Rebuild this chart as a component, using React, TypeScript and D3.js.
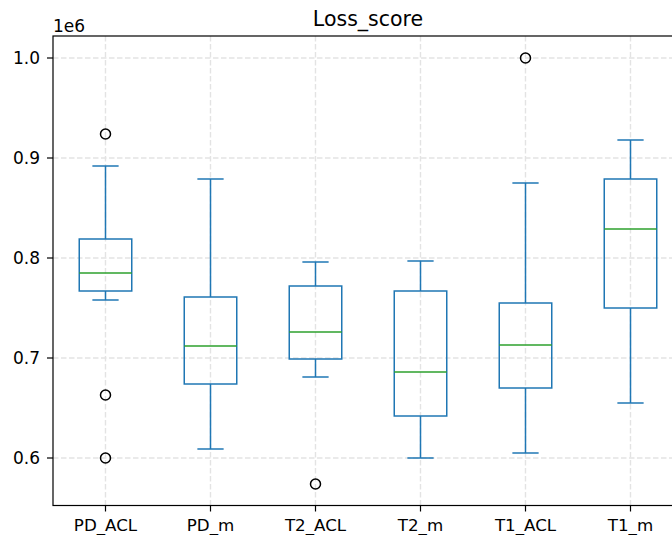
import React from "react";
import * as d3 from "d3";

const categories = ["PD_ACL", "PD_m", "T2_ACL", "T2_m", "T1_ACL", "T1_m"];
// box stats in units of 1e6
const whiskerLow = [0.758, 0.609, 0.681, 0.600, 0.605, 0.655];
const q1 = [0.767, 0.674, 0.699, 0.642, 0.670, 0.750];
const medians = [0.785, 0.712, 0.726, 0.686, 0.713, 0.829];
const q3 = [0.819, 0.761, 0.772, 0.767, 0.755, 0.879];
const whiskerHigh = [0.892, 0.879, 0.796, 0.797, 0.875, 0.918];
const outliers = [[0.924, 0.663, 0.6], [], [0.574], [], [1.0], []];
const yTicks = [0.6, 0.7, 0.8, 0.9, 1.0];

const width = 672;
const height = 535;
const left = 53;
const right = 683;
const top = 36;
const bottom = 505.5;

const blue = "#1f77b4";
const green = "#2ca02c";
const font = "DejaVu Sans, sans-serif";

const App = () => {
  const x = d3.scaleBand().domain(categories).range([left, right]).paddingInner(0).paddingOuter(0);
  const y = d3.scaleLinear().domain([0.5525, 1.022]).range([bottom, top]);
  const bw = x.bandwidth();
  const cx = (c: string) => (x(c) as number) + bw / 2;
  const boxW = bw * 0.5;
  const capW = boxW * 0.5;

  return (
    <svg width={width} height={height} style={{ position: "absolute", left: 0, top: 0, background: "#fff" }}>
      {/* grid */}
      <g stroke="#e3e3e3" strokeWidth={1.4} strokeDasharray="5.5,2.5">
        {yTicks.map((t) => (
          <line key={t} x1={left} x2={right} y1={y(t)} y2={y(t)} />
        ))}
        {categories.map((c) => (
          <line key={c} x1={cx(c)} x2={cx(c)} y1={top} y2={bottom} />
        ))}
      </g>

      {/* boxes */}
      {categories.map((c, i) => {
        const m = cx(c);
        return (
          <g key={c}>
            <g stroke={blue} strokeWidth={1.5} fill="none">
              <line x1={m} x2={m} y1={y(q3[i])} y2={y(whiskerHigh[i])} />
              <line x1={m} x2={m} y1={y(q1[i])} y2={y(whiskerLow[i])} />
              <line x1={m - capW / 2} x2={m + capW / 2} y1={y(whiskerHigh[i])} y2={y(whiskerHigh[i])} />
              <line x1={m - capW / 2} x2={m + capW / 2} y1={y(whiskerLow[i])} y2={y(whiskerLow[i])} />
              <rect x={m - boxW / 2} y={y(q3[i])} width={boxW} height={y(q1[i]) - y(q3[i])} />
            </g>
            <line x1={m - boxW / 2} x2={m + boxW / 2} y1={y(medians[i])} y2={y(medians[i])} stroke={green} strokeWidth={1.5} />
            {outliers[i].map((o, j) => (
              <circle key={j} cx={m} cy={y(o)} r={5} fill="none" stroke="#000" strokeWidth={1.5} />
            ))}
          </g>
        );
      })}

      {/* spines */}
      <rect x={left} y={top} width={right - left} height={bottom - top} fill="none" stroke="#000" strokeWidth={1.2} />

      {/* y axis */}
      {yTicks.map((t) => (
        <g key={t}>
          <line x1={left - 6} x2={left} y1={y(t)} y2={y(t)} stroke="#000" strokeWidth={1.2} />
          <text x={left - 13} y={y(t)} dy="0.35em" textAnchor="end" fontFamily={font} fontSize={17} fill="#000">
            {t.toFixed(1)}
          </text>
        </g>
      ))}
      <text x={left} y={32} fontFamily={font} fontSize={17} fill="#000">1e6</text>

      {/* x axis */}
      {categories.map((c) => (
        <g key={c}>
          <line x1={cx(c)} x2={cx(c)} y1={bottom} y2={bottom + 6} stroke="#000" strokeWidth={1.2} />
          <text x={cx(c)} y={530.5} textAnchor="middle" fontFamily={font} fontSize={16.7} fill="#000">
            {c}
          </text>
        </g>
      ))}

      <text x={(left + right) / 2} y={26} textAnchor="middle" fontFamily={font} fontSize={20.5} fill="#000">
        Loss_score
      </text>
    </svg>
  );
};

export default App;
